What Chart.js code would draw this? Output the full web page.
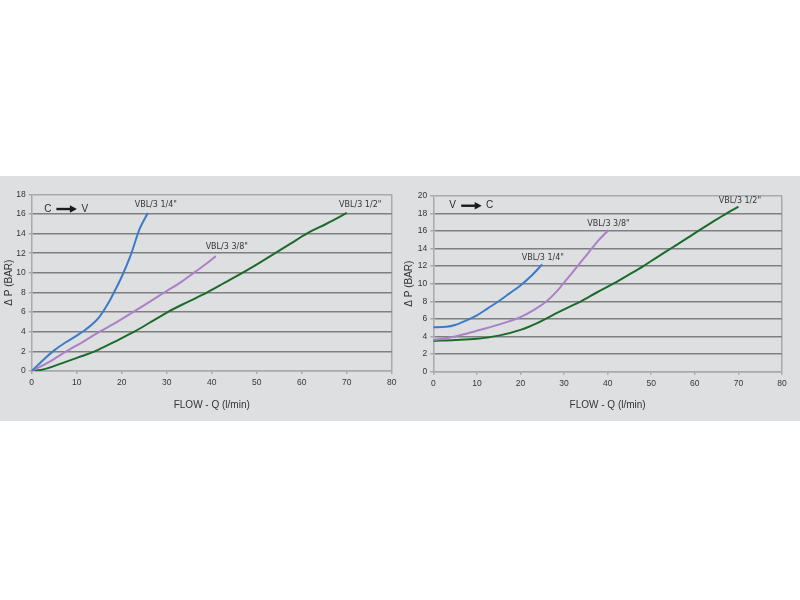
<!DOCTYPE html>
<html>
<head>
<meta charset="utf-8">
<script src="https://cdn.jsdelivr.net/npm/chart.js@4/dist/chart.umd.min.js"></script>
<style>
  body { margin: 0; background: #ffffff; width: 800px; height: 600px; position: relative; }
  #band { position: absolute; left: 0; top: 176px; width: 800px; height: 245px; background: #dedfe0; }
  canvas { position: absolute; top: 0; }
  #leftChart { left: 0; }
  #rightChart { left: 400px; }
</style>
</head>
<body>
<div id="band">
  <canvas id="leftChart" width="400" height="245"></canvas>
  <canvas id="rightChart" width="400" height="245"></canvas>
</div>
<script>
// C -> V (left chart): flow in l/min, pressure drop in bar
const cvFlow14 = [0, 2.5, 5, 7.5, 10, 12.5, 15, 17, 18.5, 20, 22, 24, 25.8];
const cvDp14 = [0, 1.1, 2.1, 2.9, 3.6, 4.4, 5.5, 6.9, 8.2, 9.6, 11.8, 14.5, 16.1];
const cvFlow38 = [0, 4, 7.7, 11.5, 15.1, 19, 22.5, 26, 29.8, 33, 36.3, 39, 40.9];
const cvDp38 = [0, 0.95, 2.0, 3.0, 4.0, 5.0, 6.0, 7.0, 8.1, 9.0, 10.1, 11.0, 11.7];
const cvFlow12 = [0, 2, 4, 7.7, 11, 14, 18.5, 22.8, 26.5, 30.2, 34.5, 39, 42.9, 46.8, 50.5, 54.1, 57.6, 61.1, 65.5, 70];
const cvDp12 = [0, 0.1, 0.35, 0.95, 1.5, 2, 3, 4, 5, 6, 7, 8, 9, 10, 11, 12, 13, 14, 15, 16.1];

// V -> C (right chart)
const vcFlow14 = [0, 3, 5, 7.5, 10, 12.5, 15, 17.5, 20, 22.5, 25];
const vcDp14 = [5.05, 5.1, 5.3, 5.8, 6.4, 7.2, 8.0, 8.9, 9.8, 10.9, 12.2];
const vcFlow38 = [0, 5, 10, 15, 20, 23, 26, 28, 29.8, 31.8, 33.6, 35.4, 37.5, 40.2];
const vcDp38 = [3.6, 4.0, 4.65, 5.35, 6.2, 7.0, 8.0, 8.95, 10.0, 11.2, 12.3, 13.4, 14.7, 16.1];
const vcFlow12 = [0, 5, 10, 15, 20, 23.7, 27.5, 30.5, 33.9, 37.5, 41.3, 44.8, 48.2, 51.3, 54.5, 57.7, 60.8, 64, 67.3, 70];
const vcDp12 = [3.5, 3.6, 3.75, 4.1, 4.75, 5.5, 6.45, 7.2, 8, 9, 10, 11, 12, 13, 14, 15, 16, 17, 18, 18.75];

const seriesNames = ['VBL/3 1/4"', 'VBL/3 3/8"', 'VBL/3 1/2"'];
const flowTicks = { min: 0, max: 80, step: 10 };

const BLUE = '#3b7bc8';
const PURPLE = '#ab80c6';
const GREEN = '#1b6b2c';
const FRAME = '#a9aaab';
const GRID = '#7e7f80';
const TEXT = '#363636';

const pairs = (xs, ys) => xs.map((x, i) => ({ x: x, y: ys[i] }));

// curve names at the end of each line + the direction arrow
const notesPlugin = {
  id: 'notes',
  afterDatasetsDraw(chart) {
    const { ctx, scales: { x, y } } = chart;
    ctx.save();
    ctx.fillStyle = TEXT;
    ctx.font = '8px "DejaVu Sans"';
    ctx.textAlign = 'center';
    ctx.textBaseline = 'middle';
    chart.data.datasets.forEach(ds => {
      const last = ds.data[ds.data.length - 1];
      const px = x.getPixelForValue(last.x) + ds.labelOffset[0];
      const py = y.getPixelForValue(last.y) + ds.labelOffset[1];
      ctx.fillText(ds.label, px, py);
    });

    const dir = chart.options.plugins.notes;
    const ax = x.getPixelForValue(dir.at[0]);
    const ay = y.getPixelForValue(dir.at[1]);
    ctx.font = '10px "Liberation Sans"';
    ctx.fillStyle = '#2a2a2a';
    ctx.fillText(dir.from, ax, ay);
    ctx.fillText(dir.to, ax + 37, ay);
    // arrow
    ctx.strokeStyle = '#1a1a1a';
    ctx.lineWidth = 2.4;
    ctx.beginPath();
    ctx.moveTo(ax + 8.5, ay);
    ctx.lineTo(ax + 23, ay);
    ctx.stroke();
    ctx.fillStyle = '#1a1a1a';
    ctx.beginPath();
    ctx.moveTo(ax + 29, ay);
    ctx.lineTo(ax + 22, ay - 3.8);
    ctx.lineTo(ax + 22, ay + 3.8);
    ctx.closePath();
    ctx.fill();
    ctx.restore();
  }
};

function makeChart(id, sets, yMax, pad, yWidth, xHeight, dir) {
  const ctx = document.getElementById(id).getContext('2d');
  return new Chart(ctx, {
    type: 'line',
    data: {
      datasets: sets.map(s => ({
        label: s.name,
        data: s.data,
        borderColor: s.color,
        borderWidth: 2,
        pointRadius: 0,
        fill: false,
        cubicInterpolationMode: 'monotone',
        labelOffset: s.offset
      }))
    },
    options: {
      responsive: false,
      animation: false,
      layout: { padding: pad },
      plugins: {
        legend: { display: false },
        tooltip: { enabled: false },
        notes: dir
      },
      scales: {
        x: {
          type: 'linear',
          min: flowTicks.min,
          max: flowTicks.max,
          ticks: {
            stepSize: flowTicks.step,
            padding: 3.5,
            maxRotation: 0,
            color: TEXT,
            font: { family: 'Liberation Sans', size: 8.5 }
          },
          grid: {
            color: c => (c.tick && c.tick.value === flowTicks.max ? FRAME : 'rgba(0,0,0,0)'),
            tickColor: FRAME,
            tickLength: 3,
            lineWidth: 1.5
          },
          border: { color: FRAME, width: 1.5 },
          title: {
            display: true,
            text: 'FLOW - Q (l/min)',
            color: '#333333',
            padding: { top: 0, bottom: 10 },
            font: { family: 'Liberation Sans', size: 10 }
          },
          afterFit: s => { s.height = xHeight; }
        },
        y: {
          type: 'linear',
          min: 0,
          max: yMax,
          ticks: {
            stepSize: 2,
            padding: 3,
            color: TEXT,
            font: { family: 'Liberation Sans', size: 8.5 }
          },
          grid: {
            color: c => (c.tick && (c.tick.value === 0 || c.tick.value === yMax) ? FRAME : GRID),
            tickColor: FRAME,
            tickLength: 3,
            lineWidth: 1.5
          },
          border: { color: FRAME, width: 1.5 },
          title: {
            display: true,
            text: 'Δ P (BAR)',
            color: '#333333',
            padding: { top: 3, bottom: 0 },
            font: { family: 'Liberation Sans', size: 10 }
          },
          afterFit: s => { s.width = yWidth; }
        }
      }
    },
    plugins: [notesPlugin]
  });
}

makeChart('leftChart', [
  { name: seriesNames[0], data: pairs(cvFlow14, cvDp14), color: BLUE, offset: [8, -7.6] },
  { name: seriesNames[1], data: pairs(cvFlow38, cvDp38), color: PURPLE, offset: [11, -9.5] },
  { name: seriesNames[2], data: pairs(cvFlow12, cvDp12), color: GREEN, offset: [13.5, -7.6] }
], 18, { left: 0, top: 18.3, right: 6.3, bottom: 0 }, 31.7, 50,
  { from: 'C', to: 'V', at: [3.6, 16.5] });

makeChart('rightChart', [
  { name: seriesNames[0], data: pairs(vcFlow14, vcDp14), color: BLUE, offset: [0.6, -6] },
  { name: seriesNames[1], data: pairs(vcFlow38, vcDp38), color: PURPLE, offset: [0, -5.7] },
  { name: seriesNames[2], data: pairs(vcFlow12, vcDp12), color: GREEN, offset: [1.5, -5.7] }
], 20, { left: 0, top: 19.7, right: 18, bottom: 0 }, 33.3, 49.3,
  { from: 'V', to: 'C', at: [4.45, 18.86] });
</script>
</body>
</html>
